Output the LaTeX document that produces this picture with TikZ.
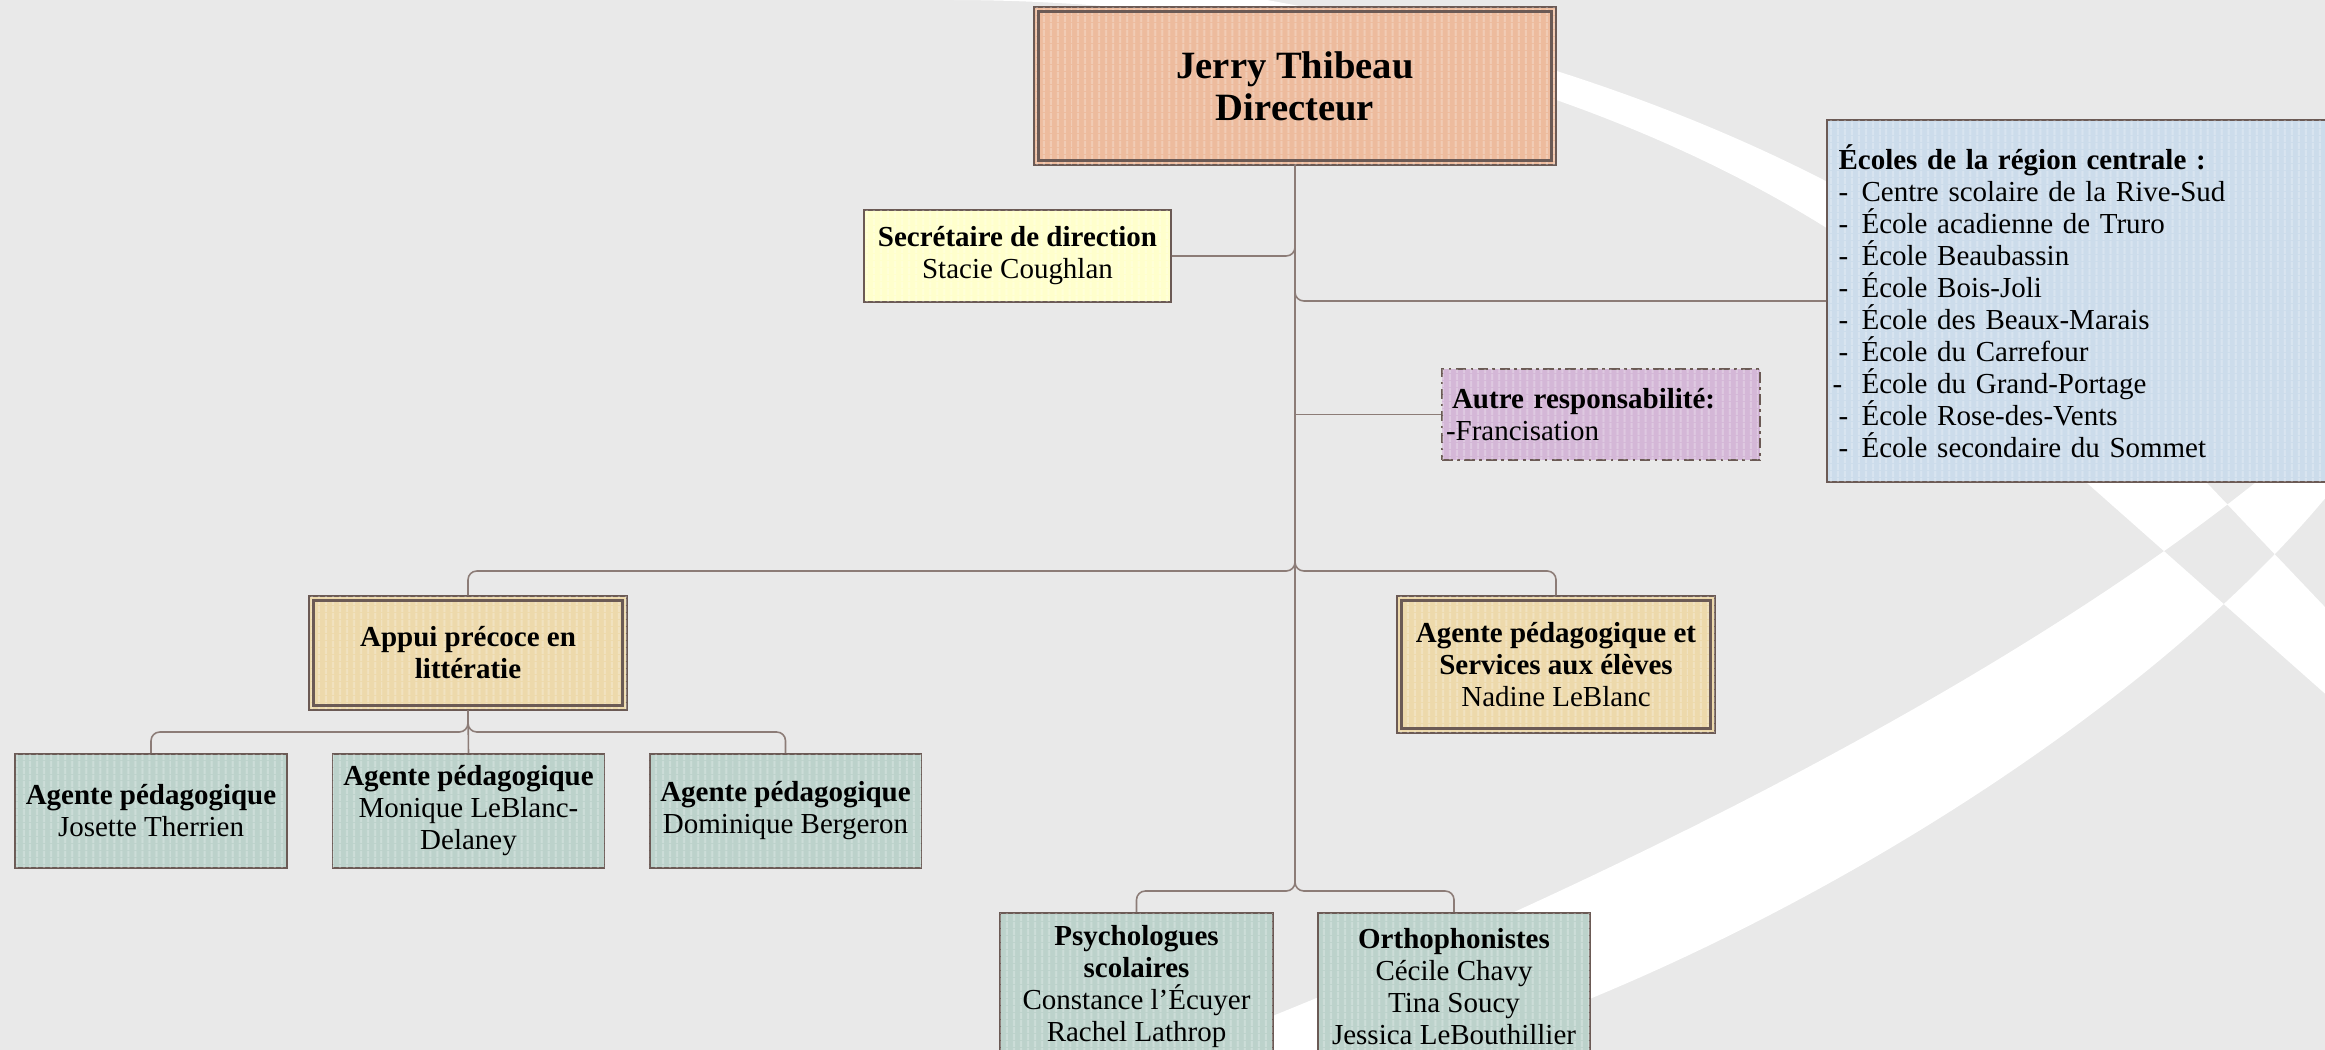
\documentclass[tikz,border=0pt]{standalone}
\usepackage{fontspec}
\setmainfont{Liberation Serif}
\usetikzlibrary{calc,patterns.meta}

\definecolor{fond}{HTML}{E9E9E9}
\definecolor{trait}{HTML}{8C7C77}
\definecolor{bord}{HTML}{6B5A55}
\definecolor{saumon}{HTML}{EDBB9D}
\definecolor{jaune}{HTML}{FFFFCC}
\definecolor{mauve}{HTML}{D4B7D7}
\definecolor{bleu}{HTML}{CCDCEB}
\definecolor{sable}{HTML}{EDD9AB}
\definecolor{vert}{HTML}{BCD2CB}

\tikzset{
  boite/.style={draw=bord, line width=1.1pt, inner sep=2pt, align=center,
    font=\fontsize{16.5}{18.2}\selectfont,
    postaction={pattern={Lines[angle=90,distance=4pt,line width=1.4pt]},
      pattern color=white, opacity=.25}},
  cadre/.style={boite, line width=.8pt},
  agente/.style={boite, fill=vert, minimum width=5.44cm, minimum height=2.28cm},
  lien/.style={draw=trait, line width=.9pt, rounded corners=5pt},
}

\begin{document}
\begin{tikzpicture}[x=0.02cm,y=-0.02cm]
\useasboundingbox (0,0) rectangle (2325,1050);
%					Tracé du fond :
\fill[fond] (0,0) rectangle (2325,1050);
\begin{scope}
  \clip (0,0) rectangle (2325,1050);
  \fill[white, even odd rule]
    (949,0) .. controls (1500,0) and (1950,230) .. (2087,483) -- (2400,760)
      -- (2400,686) -- (2207,483) .. controls (2050,280) and (1700,35) .. (1050,-30) -- cycle
    (1186,1050) .. controls (1500,930) and (2050,680) .. (2340,410) -- (2340,480)
      .. controls (2150,720) and (1750,960) .. (1420,1060) -- cycle;
\end{scope}
%					Les boîtes :
\node[cadre, fill=saumon, minimum width=10.44cm, minimum height=3.16cm,
  font=\fontsize{22}{24}\selectfont\bfseries] (dir) at (1295,86) {Jerry Thibeau\\Directeur};
\node[boite, fill=jaune, minimum width=6.14cm, minimum height=1.84cm] (sec) at (1017.5,256)
  {\textbf{Secrétaire de direction}\\Stacie Coughlan};
\node[boite, fill=bleu, minimum width=10.06cm, minimum height=7.24cm, text width=9.6cm,
  align=left, inner xsep=0.22cm] (ecoles) at (2078.5,301)
  {\textbf{Écoles de la région centrale :}\\
   \makebox[0.46cm][l]{-}Centre scolaire de la Rive-Sud\\
   \makebox[0.46cm][l]{-}École acadienne de Truro\\
   \makebox[0.46cm][l]{-}École Beaubassin\\
   \makebox[0.46cm][l]{-}École Bois-Joli\\
   \makebox[0.46cm][l]{-}École des Beaux-Marais\\
   \makebox[0.46cm][l]{-}École du Carrefour\\
   \hspace*{-0.12cm}\makebox[0.58cm][l]{-}École du Grand-Portage\\
   \makebox[0.46cm][l]{-}École Rose-des-Vents\\
   \makebox[0.46cm][l]{-}École secondaire du Sommet};
\node[boite, fill=mauve, dash pattern=on 6pt off 2.5pt on 1.5pt off 2.5pt,
  minimum width=6.36cm, minimum height=1.82cm, text width=6.2cm, align=left,
  inner xsep=0.08cm] (autre) at (1601,414.5)
  {\hspace*{0.12cm}\textbf{Autre responsabilité:}\\-Francisation};
\node[cadre, fill=sable, minimum width=6.36cm, minimum height=2.28cm,
  font=\fontsize{16.5}{18.2}\selectfont\bfseries] (appui) at (468,653) {Appui précoce en\\littératie};
\node[cadre, fill=sable, minimum width=6.36cm, minimum height=2.74cm] (nadine) at (1556,664.5)
  {\textbf{Agente pédagogique et}\\\textbf{Services aux élèves}\\Nadine LeBlanc};
\node[agente] (ag1) at (151,811) {\textbf{Agente pédagogique}\\Josette Therrien};
\node[agente] (ag2) at (468.5,811) {\textbf{Agente pédagogique}\\Monique LeBlanc-\\Delaney};
\node[agente] (ag3) at (785.5,811) {\textbf{Agente pédagogique}\\Dominique Bergeron};
\node[agente, minimum width=5.46cm, minimum height=2.94cm] (psy) at (1136.5,986.5)
  {\textbf{Psychologues}\\\textbf{scolaires}\\Constance l’Écuyer\\Rachel Lathrop};
\node[agente, minimum height=2.94cm] (ortho) at (1454,986.5)
  {\textbf{Orthophonistes}\\Cécile Chavy\\Tina Soucy\\Jessica LeBouthillier};
%					Doubles cadres :
\foreach \n in {dir,appui,nadine}
  \draw[bord, line width=1.4pt] ($(\n.north west)+(5,5)$) rectangle ($(\n.south east)+(-5,-5)$);
%					Les liens :
\coordinate (jA) at (1295,571);
\coordinate (jB) at (1295,891);
\coordinate (jC) at (468,732);
\draw[lien] (dir.south) |- (sec.east);
\draw[lien] (dir.south) |- (ecoles.west);
\draw[lien, rounded corners=0pt] (dir.south) |- (autre.west);
\draw[lien] (dir.south) -- (jA) -| (appui.north);
\draw[lien] (dir.south) -- (jA) -| (nadine.north);
\draw[lien] (dir.south) -- (jB) -| (psy.north);
\draw[lien] (dir.south) -- (jB) -| (ortho.north);
\draw[lien] (appui.south) -- (jC) -| (ag1.north);
\draw[lien] (appui.south) -- (ag2.north);
\draw[lien] (appui.south) -- (jC) -| (ag3.north);
\end{tikzpicture}
\end{document}
